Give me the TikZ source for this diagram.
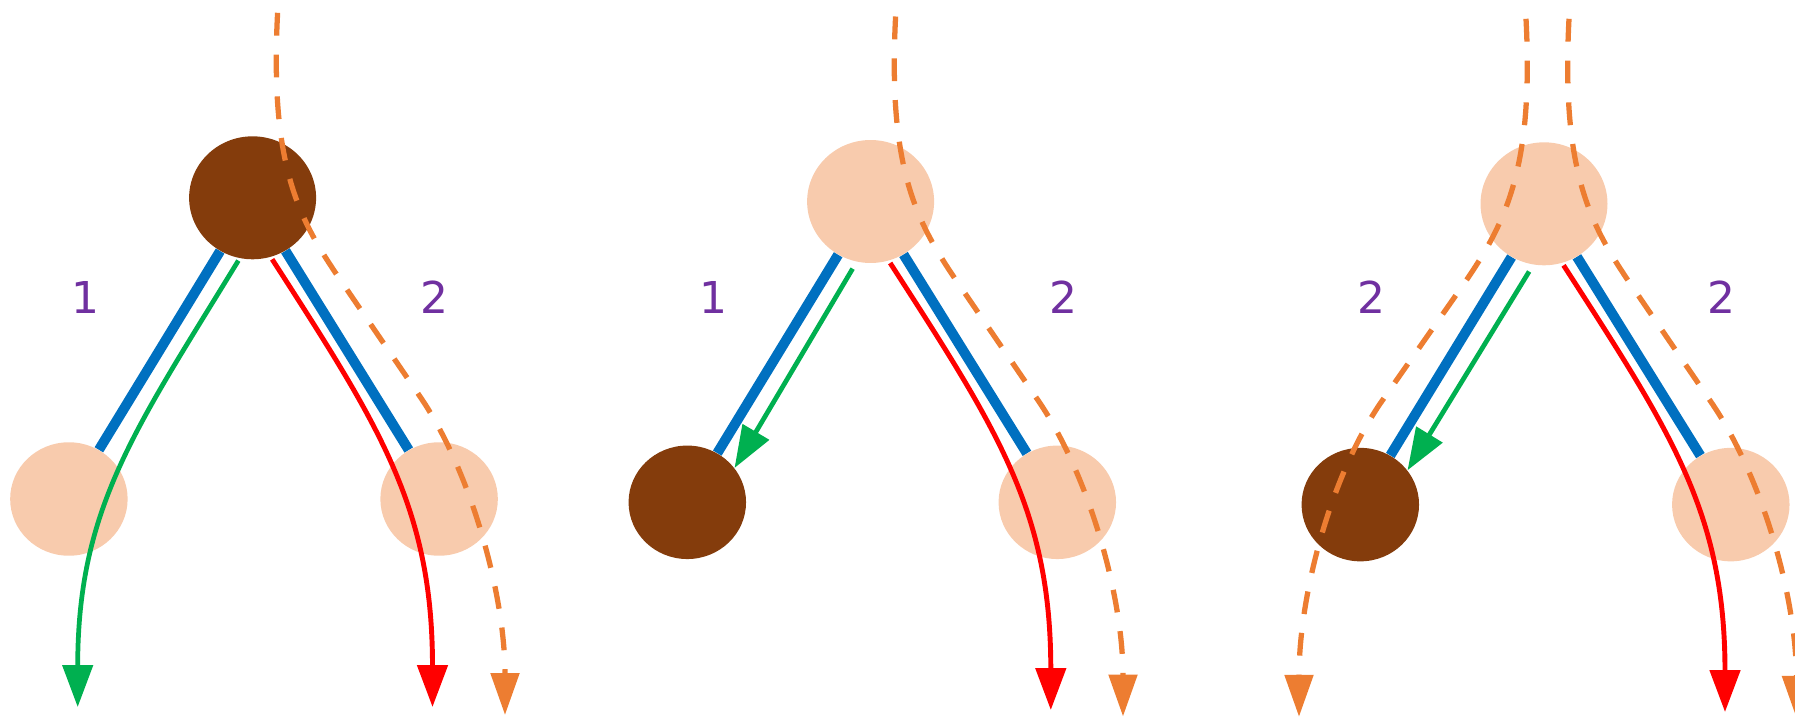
\documentclass[tikz,border=0pt]{standalone}
\usepackage{fontspec}
\setmainfont{DejaVu Sans}
\usepackage{tikz}
\usetikzlibrary{arrows.meta, shapes.geometric, backgrounds}

\definecolor{nodebrown}{HTML}{843C0C}
\definecolor{nodepeach}{HTML}{F8CBAD}
\definecolor{linkblue}{HTML}{0070C0}
\definecolor{fwdgreen}{HTML}{00B050}
\definecolor{bwdred}{HTML}{FF0000}
\definecolor{floworange}{HTML}{ED7D31}
\definecolor{hoppurple}{HTML}{7030A0}

\tikzset{
  bignode/.style={ellipse, inner sep=0pt, minimum width=2.54cm, minimum height=2.46cm},
  smallnode/.style={ellipse, inner sep=0pt, minimum width=2.35cm, minimum height=2.27cm},
  link/.style={linkblue, line width=5.7pt},
  fwdarrow/.style={fwdgreen, line width=2.7pt, -{Triangle[length=0.84cm, width=0.6cm]}},
  bwdarrow/.style={bwdred, line width=2.8pt, shorten <=1.5pt, -{Triangle[length=0.84cm, width=0.6cm]}},
  flowline/.style={floworange, line width=3pt, dash pattern=on 13pt off 10.8pt, -{Triangle[length=0.84cm, width=0.56cm]}},
  hoplabel/.style={hoppurple, font=\fontsize{25}{30}\selectfont},
}

\begin{document}
\begin{tikzpicture}[x=0.02cm, y=0.02cm]
  \useasboundingbox (0,0) rectangle (1795,718);

  % left panel
  \begin{scope}[shift={(252.6,520.2)}]
    \node[bignode, fill=nodebrown] (t1) at (0,0) {};
    \node[smallnode, fill=nodepeach] (l1) at (-183.7,-301.2) {};
    \node[smallnode, fill=nodepeach] (r1) at (186.5,-301.2) {};
    \begin{scope}[on background layer]
      \draw[link] (t1) -- (l1);
      \draw[link] (t1) -- (r1);
    \end{scope}
    \node[hoplabel] (h1a) at (-167.6,-99.8) {1};
    \node[hoplabel] (h1b) at (181.4,-99.8) {2};
    \coordinate (g1) at (-174.9,-509.2);
    \coordinate (e1) at (179.9,-509.2);
    \coordinate (s1) at (25,185);
    \coordinate (b1) at (84.2,-76.9);
    \coordinate (c1) at (168.4,-200.2);
    \coordinate (f1) at (252.4,-517.2);
    \draw[fwdarrow, shorten <=1.5pt] (t1.258) to[out=238.6, in=90, distance=4cm] (g1);
    \draw[bwdarrow] (t1.287) to[out=-57.2, in=90, distance=4cm] (e1);
    \draw[flowline] (s1) to[out=-93, in=124, out distance=3cm, in distance=1.4cm] (b1)
      -- (c1) to[out=-56, in=90, out distance=1.8cm, in distance=2.4cm] (f1);
  \end{scope}

  % middle panel
  \begin{scope}[shift={(870.6,516.5)}]
    \node[bignode, fill=nodepeach] (t2) at (0,0) {};
    \node[smallnode, fill=nodebrown] (l2) at (-183.3,-300.8) {};
    \node[smallnode, fill=nodepeach] (r2) at (186.7,-300.8) {};
    \begin{scope}[on background layer]
      \draw[link] (t2) -- (l2);
      \draw[link] (t2) -- (r2);
    \end{scope}
    \node[hoplabel] (h2a) at (-156.9,-96.1) {1};
    \node[hoplabel] (h2b) at (192.4,-96.1) {2};
    \coordinate (e2) at (180.2,-508.5);
    \coordinate (s2) at (25,185);
    \coordinate (b2) at (84.2,-76.9);
    \coordinate (c2) at (168.4,-200.2);
    \coordinate (f2) at (252.4,-515);
    \draw[fwdarrow, shorten <=4.5pt] (t2.257) -- (l2.36);
    \draw[bwdarrow] (t2.287) to[out=-57.2, in=90, distance=4cm] (e2);
    \draw[flowline] (s2) to[out=-93, in=124, out distance=3cm, in distance=1.4cm] (b2)
      -- (c2) to[out=-56, in=90, out distance=1.8cm, in distance=2.4cm] (f2);
  \end{scope}

  % right panel
  \begin{scope}[shift={(1544,514.2)}]
    \node[bignode, fill=nodepeach] (t3) at (0,0) {};
    \node[smallnode, fill=nodebrown] (l3) at (-183.7,-300.8) {};
    \node[smallnode, fill=nodepeach] (r3) at (186.8,-300.8) {};
    \begin{scope}[on background layer]
      \draw[link] (t3) -- (l3);
      \draw[link] (t3) -- (r3);
    \end{scope}
    \node[hoplabel] (h3a) at (-173,-93.8) {2};
    \node[hoplabel] (h3b) at (177,-93.8) {2};
    \coordinate (e3) at (181,-508.2);
    \coordinate (s3) at (25,185);
    \coordinate (b3) at (84.2,-76.9);
    \coordinate (c3) at (168.4,-200.2);
    \coordinate (f3) at (252.4,-514);
    \coordinate (s3l) at (-18,185);
    \coordinate (b3l) at (-78,-77);
    \coordinate (c3l) at (-164,-200);
    \coordinate (f3l) at (-245,-513);
    \draw[fwdarrow, shorten <=4.5pt] (t3.260) -- (l3.36);
    \draw[bwdarrow] (t3.287) to[out=-57.2, in=90, distance=4cm] (e3);
    \draw[flowline] (s3) to[out=-93, in=124, out distance=3cm, in distance=1.4cm] (b3)
      -- (c3) to[out=-56, in=90, out distance=1.8cm, in distance=2.4cm] (f3);
    \draw[flowline] (s3l) to[out=-87, in=56, out distance=3cm, in distance=1.4cm] (b3l)
      -- (c3l) to[out=-124, in=90, out distance=1.8cm, in distance=2.4cm] (f3l);
  \end{scope}
\end{tikzpicture}
\end{document}
